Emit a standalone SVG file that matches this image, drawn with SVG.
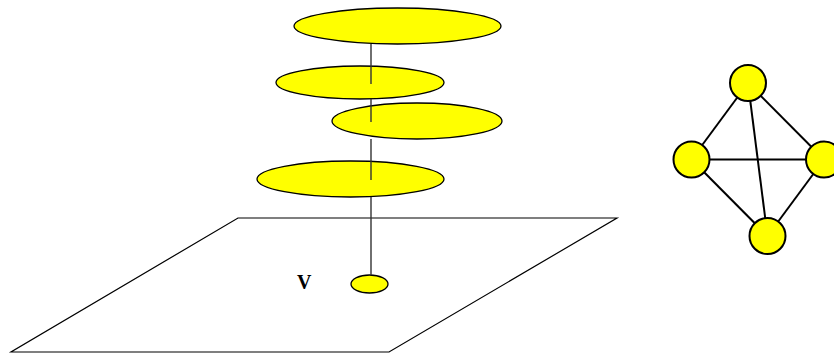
<svg xmlns="http://www.w3.org/2000/svg" width="834" height="353" viewBox="0 0 834 353">
<style>
.disc{fill:#ffff00;stroke:#000;stroke-width:1.3}
.axis{stroke:#333;stroke-width:1.4;fill:none}
.edge{stroke:#000;stroke-width:2;fill:none}
.node{fill:#ffff00;stroke:#000;stroke-width:2}
.plane{fill:none;stroke:#000;stroke-width:1.2}
</style>
<rect width="834" height="353" fill="#fff"/>
<polygon id="plane" class="plane" points="238,218 617,218 389,352 11,352"/>
<g id="stack">
<ellipse id="disc1" class="disc" cx="397.5" cy="26" rx="103.5" ry="18"/>
<ellipse id="disc2" class="disc" cx="360" cy="82.5" rx="84" ry="16.5"/>
<ellipse id="disc3" class="disc" cx="417" cy="121" rx="85" ry="18"/>
<ellipse id="disc4" class="disc" cx="350.5" cy="179" rx="93.5" ry="18"/>
<ellipse id="point" class="disc" cx="369.5" cy="284" rx="18.5" ry="9"/>
</g>
<g id="axis-connectors">
<line class="axis" x1="371" y1="44" x2="371" y2="84"/>
<line class="axis" x1="371" y1="99" x2="371" y2="122"/>
<line class="axis" x1="371" y1="139" x2="371" y2="180"/>
<line class="axis" x1="371" y1="197" x2="371" y2="275"/>
</g>
<text id="label-v" x="297" y="289" font-family="Liberation Serif, serif" font-size="20" font-weight="bold">V</text>
<g id="graph-edges">
<line class="edge" x1="748" y1="83" x2="691.5" y2="159.5"/>
<line class="edge" x1="748" y1="83" x2="824" y2="159.5"/>
<line class="edge" x1="748" y1="83" x2="767.5" y2="236"/>
<line class="edge" x1="691.5" y1="159.5" x2="824" y2="159.5"/>
<line class="edge" x1="691.5" y1="159.5" x2="767.5" y2="236"/>
<line class="edge" x1="824" y1="159.5" x2="767.5" y2="236"/>
</g>
<g id="n-top"><circle class="node" cx="748" cy="83" r="18"/></g>
<g id="n-left"><circle class="node" cx="691.5" cy="159.5" r="18"/></g>
<g id="n-right"><circle class="node" cx="824" cy="159.5" r="18"/></g>
<g id="n-bottom"><circle class="node" cx="767.5" cy="236" r="18"/></g>
</svg>
